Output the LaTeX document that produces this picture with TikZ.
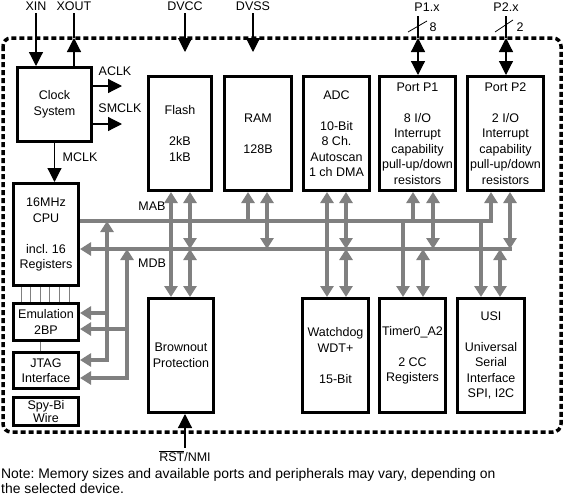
\documentclass[tikz,border=0pt]{standalone}
\usepackage{fontspec}
\setmainfont{Liberation Sans}
\usetikzlibrary{arrows.meta}
\frenchspacing
\tikzset{
  blk/.style={ draw, line width=3pt, inner sep=0pt, align=center }
}
\tikzset{
  tallblk/.style={ blk, minimum height=114pt }
}
\tikzset{
  bus/.style={ draw=gray, line width=3.2pt, >={Triangle[length=11pt,width=13pt]} }
}
\tikzset{
  sig/.style={ draw=black, line width=1.2pt, >={Triangle[length=14pt,width=14pt]} }
}
\tikzset{
  wire/.style={ draw=gray, line width=0.8pt }
}
\tikzset{
  pinlbl/.style={ inner sep=2.5pt }
}

\begin{document}
\begin{tikzpicture}[x=1pt, y=-1pt, font=\fontsize{12.5}{15.5}\selectfont]
  \useasboundingbox (0,0) rectangle (565,498);
  % chip outline
  \draw[line width=3.5pt, dash pattern=on 5pt off 3pt, rounded corners=8pt] (3,38) rectangle (561,432);

  % blocks, top row
  \node[blk, minimum width=74pt, minimum height=74pt] (clk) at (54.5,104.5) {Clock\\System};
  \node[tallblk, minimum width=63pt] (flash) at (180,133.5) {Flash\\[15.5pt]2kB\\1kB};
  \node[tallblk, minimum width=67pt] (ram) at (258,133.5) {RAM\\[15.5pt]128B};
  \node[tallblk, minimum width=66pt] (adc) at (336.5,133.5) {ADC\\[15.5pt]10-Bit\\8 Ch.\\Autoscan\\1 ch DMA};
  \node[tallblk, minimum width=76pt] (pone) at (417.5,133.5) {Port P1\\[15.5pt]8 I/O\\Interrupt\\capability\\pull-up/down\\resistors};
  \node[tallblk, minimum width=76pt] (ptwo) at (505.5,133.5) {Port P2\\[15.5pt]2 I/O\\Interrupt\\capability\\pull-up/down\\resistors};
  % blocks, left column
  \node[blk, minimum width=65pt, minimum height=102pt] (cpu) at (46,234.5) {16MHz\\CPU\\[15.5pt]incl. 16\\Registers};
  \node[blk, minimum width=65pt, minimum height=37pt] (emu) at (46,322) {Emulation\\2BP};
  \node[blk, minimum width=65pt, minimum height=36pt] (jtag) at (46,370.5) {JTAG\\Interface};
  \node[blk, minimum width=65pt, minimum height=28pt] (sbw) at (46,411.5) {Spy-Bi\\[-2pt]Wire};
  % blocks, bottom row
  \node[tallblk, minimum width=65pt] (bor) at (181,355.5) {Brownout\\Protection};
  \node[tallblk, minimum width=66pt] (wdt) at (335.5,355.5) {Watchdog\\WDT+\\[15.5pt]15-Bit};
  \node[tallblk, minimum width=66pt] (tmr) at (412.5,355.5) {Timer0\_A2\\[15.5pt]2 CC\\Registers};
  \node[tallblk, minimum width=67pt] (usi) at (491,355.5) {USI\\[15.5pt]Universal\\Serial\\Interface\\SPI, I2C};

  % pin and signal labels
  \node[pinlbl] (xin) at (36,6) {XIN};
  \node[pinlbl] (xout) at (74,6) {XOUT};
  \node[pinlbl] (dvcc) at (185,6) {DVCC};
  \node[pinlbl] (dvss) at (253,6) {DVSS};
  \node[pinlbl] (p1x) at (427,7) {P1.x};
  \node[pinlbl] (p2x) at (506,7) {P2.x};
  \node[pinlbl] (p1n) at (433,27) {8};
  \node[pinlbl] (p2n) at (520,27) {2};
  \node[pinlbl] (aclk) at (115,71) {ACLK};
  \node[pinlbl] (smclk) at (120,108) {SMCLK};
  \node[pinlbl] (mclk) at (80,157) {MCLK};
  \node[pinlbl] (mab) at (152,206) {MAB};
  \node[pinlbl] (mdb) at (152,263) {MDB};
  \node[pinlbl] (rst) at (185,456) {$\overline{\mbox{RST}}$/NMI};
  \node[pinlbl, inner sep=1pt, anchor=north west, align=left, font=\fontsize{13.9}{15}\selectfont] (note) at (0,467) {Note: Memory sizes and available ports and peripherals may vary, depending on\\the selected device.};

  \coordinate (xoutB) at (74,38);
  \coordinate (dvccB) at (185,52);
  \coordinate (dvssB) at (253,52);
  \coordinate (aclkE) at (122,86);
  \coordinate (smclkE) at (122,124);
  \coordinate (p1top) at (418,16);
  \coordinate (p1B) at (418,38);
  \coordinate (p2top) at (506,16);
  \coordinate (p2B) at (506,38);

  % clock and supply signals
  \draw[sig,->] (xin.south) -- (xin.south |- clk.north);
  \draw[sig] (xout.south) -- (xoutB);
  \draw[sig,->] (xout.south |- clk.north) -- (xoutB);
  \draw[sig,->] (dvcc.south) -- (dvccB);
  \draw[sig,->] (dvss.south) -- (dvssB);
  \draw[sig,->] (aclkE -| clk.east) -- (aclkE);
  \draw[sig,->] (smclkE -| clk.east) -- (smclkE);
  \draw[sig,->] (clk.south) -- (clk.south |- cpu.north);
  \draw[sig,->] (rst.north) -- (rst.north |- bor.south);
  % ports
  \draw[sig] (p1top) -- (p1B);
  \draw[sig,<->] (p1B) -- (p1B |- pone.north);
  \draw[sig] (p2top) -- (p2B);
  \draw[sig,<->] (p2B) -- (p2B |- ptwo.north);
  \draw[line width=0.8pt] (408,32) -- (427,21);
  \draw[line width=0.8pt] (495,32) -- (513,20);

  % address and data bus
  \coordinate (mabR) at (492.6,221);
  \coordinate (mdbR) at (511.6,249);
  \coordinate (abus) at (107,221);
  \coordinate (dbus) at (127,249);
  \draw[bus] (mabR) -- (mabR -| cpu.east);
  \draw[bus,->] (mdbR) -- (mdbR -| cpu.east);
  \draw[bus,<->] ([yshift=10.5pt]jtag.east) -| (abus);
  \draw[bus,->] ([yshift=9pt]emu.east -| abus) -- ([yshift=9pt]emu.east);
  \draw[bus,<->] ([yshift=-7.5pt]jtag.east) -| (dbus);
  \draw[bus,->] ([yshift=-7pt]emu.east -| dbus) -- ([yshift=-7pt]emu.east);
  \foreach \n/\dx in {ram/25, pone/35, ptwo/25}
    \draw[bus,->] ([xshift=\dx pt]\n.south west |- mabR) -- ([xshift=\dx pt]\n.south west);
  \foreach \n/\dx in {tmr/25, usi/25}
    \draw[bus,->] ([xshift=\dx pt]\n.north west |- mabR) -- ([xshift=\dx pt]\n.north west);
  \foreach \n/\dx in {flash/43, ram/44, adc/44, pone/55, ptwo/44}
    \draw[bus,<->] ([xshift=\dx pt]\n.south west) -- ([xshift=\dx pt]\n.south west |- mdbR);
  \foreach \n/\dx in {bor/43, wdt/45, tmr/45, usi/44}
    \draw[bus,<->] ([xshift=\dx pt]\n.north west |- mdbR) -- ([xshift=\dx pt]\n.north west);
  \draw[bus,<->] ([xshift=24pt]flash.south west) -- ([xshift=24pt]flash.south west |- bor.north);
  \draw[bus,<->] ([xshift=25pt]adc.south west) -- ([xshift=25pt]adc.south west |- wdt.north);

  % debug lines
  \foreach \dx in {9,18.6,28.2,37.8,47.4,57}
    \draw[wire] ([xshift=\dx pt]cpu.south west) -- ([xshift=\dx pt]emu.north west);
  \draw[wire] ([xshift=28pt]emu.south west) -- ([xshift=28pt]jtag.north west);
\end{tikzpicture}
\end{document}
